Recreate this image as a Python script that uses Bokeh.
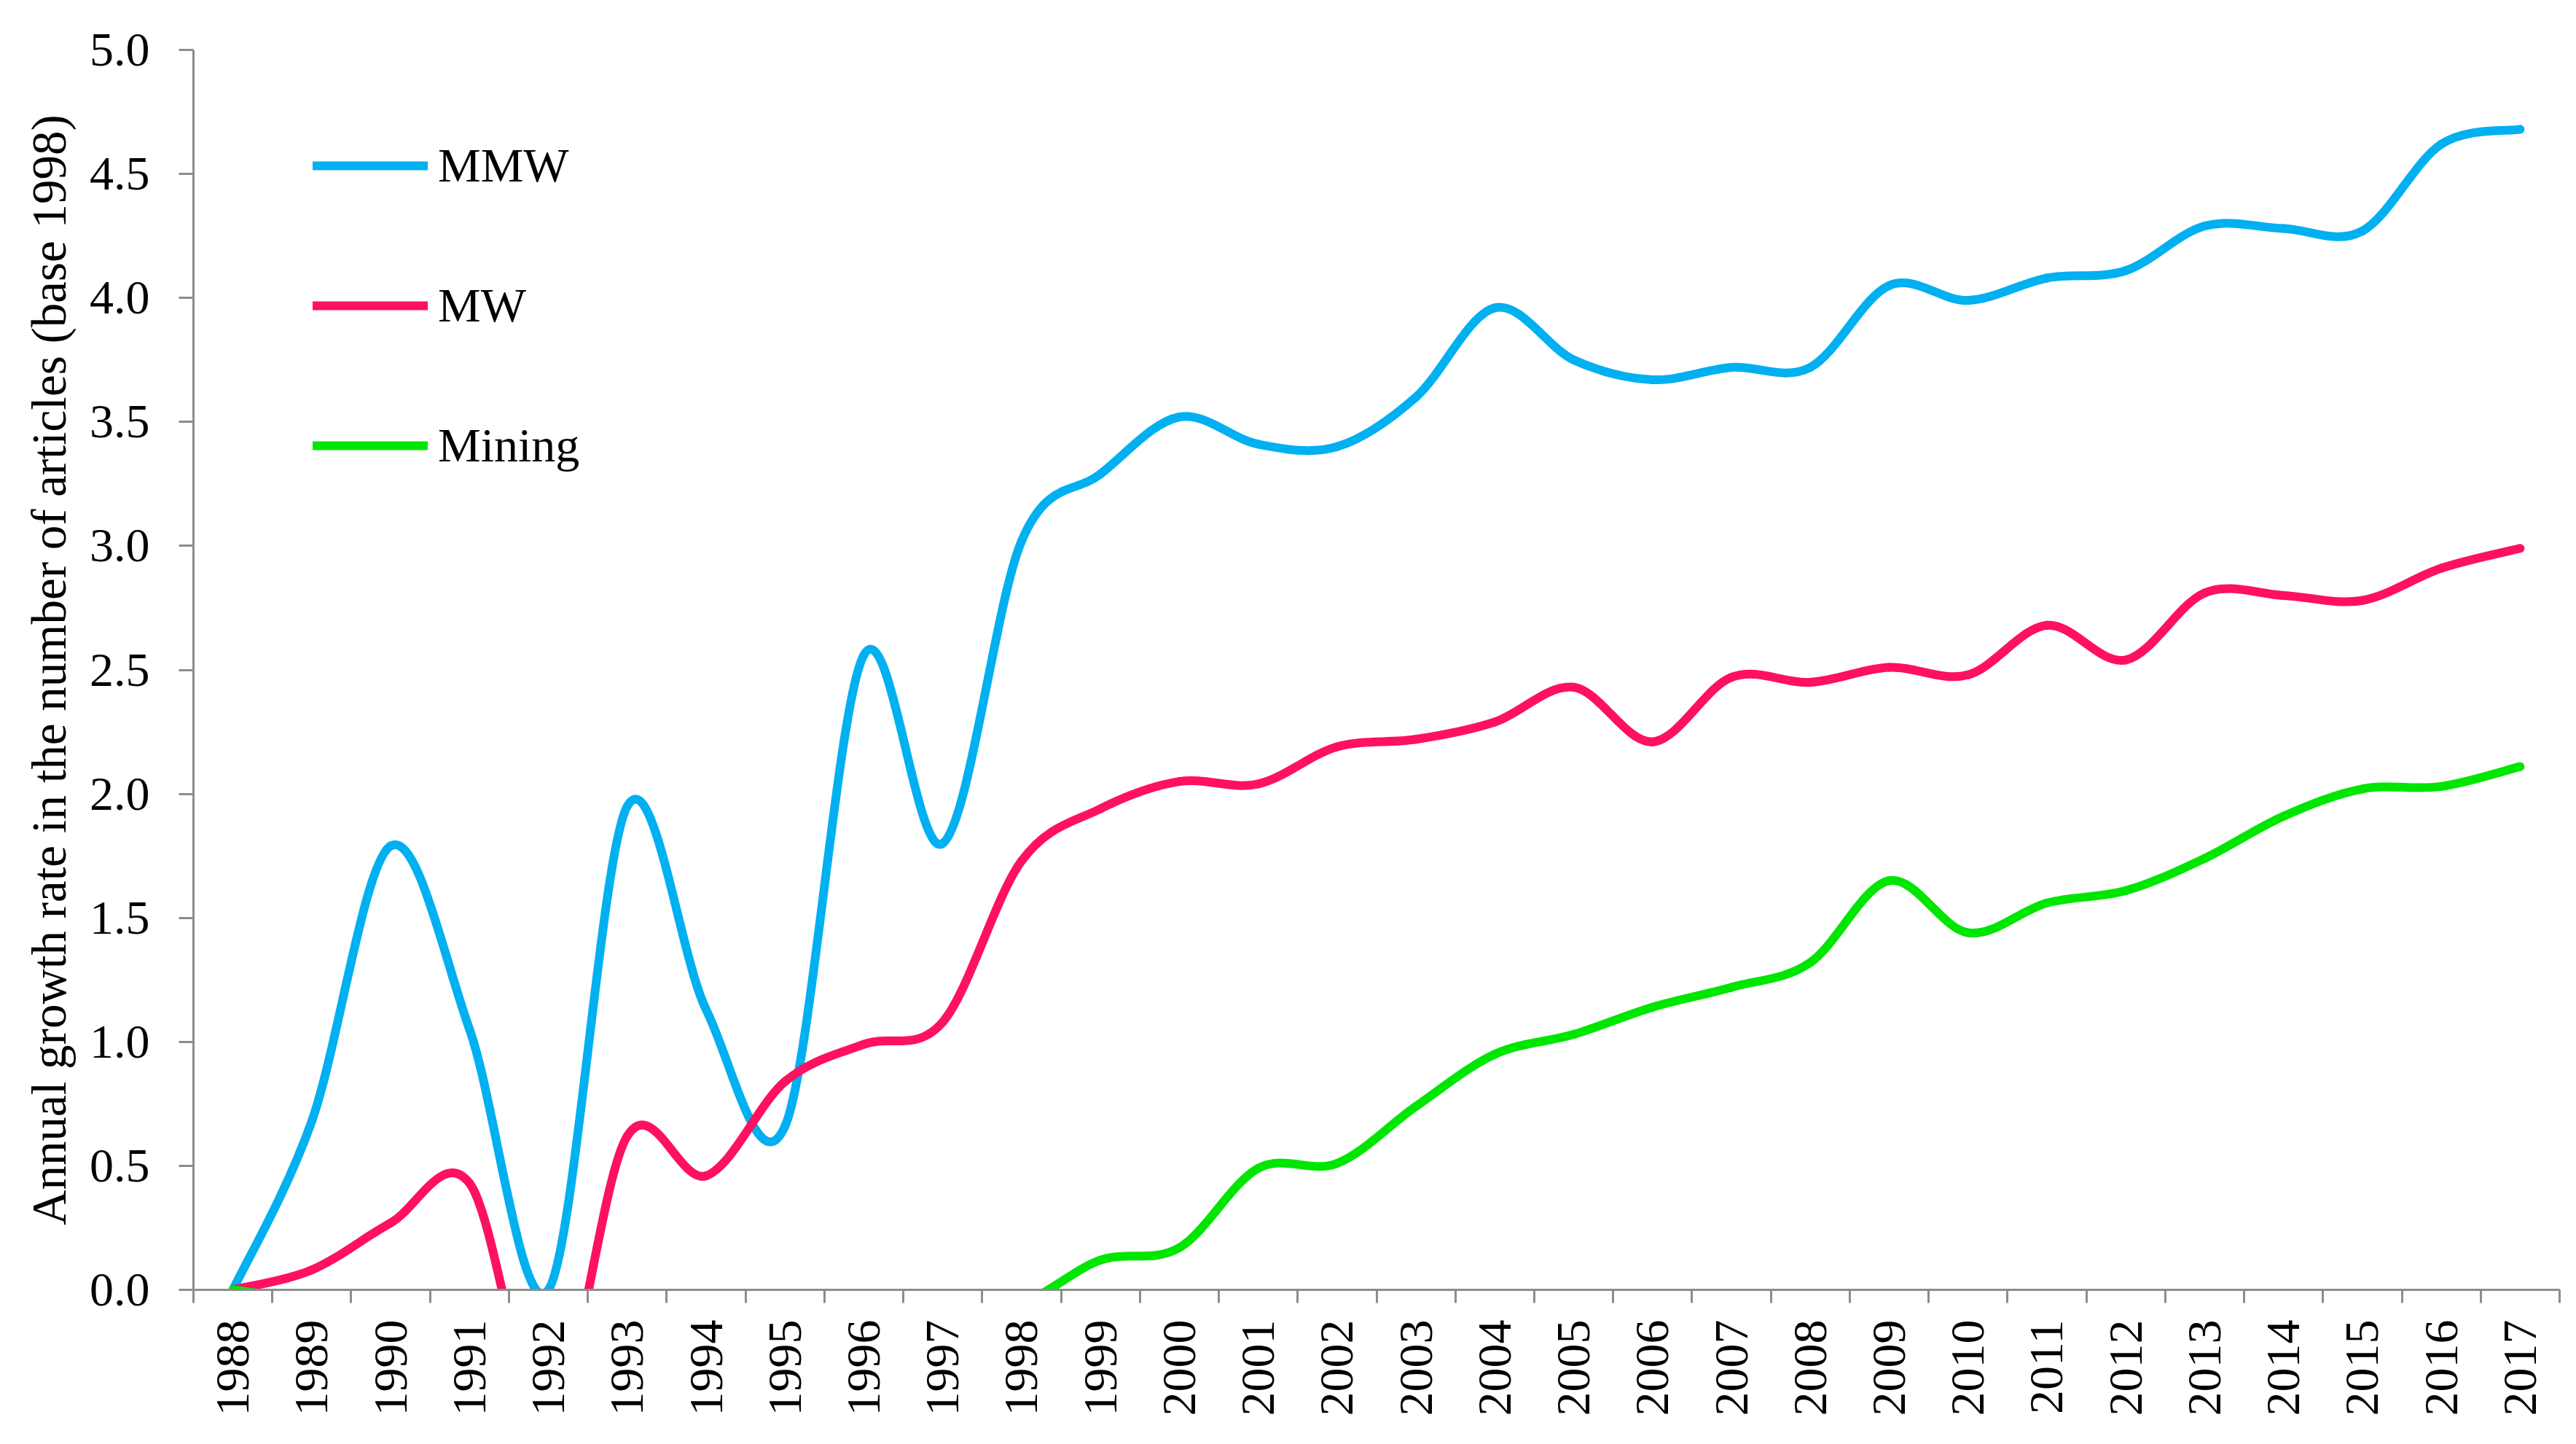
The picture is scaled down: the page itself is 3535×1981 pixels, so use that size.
from bokeh.plotting import figure
from bokeh.models import (Range1d, FixedTicker, PrintfTickFormatter, ColumnDataSource,
                          Legend, LegendItem)
from bokeh.embed import file_html
from bokeh.resources import INLINE
import math

# ---------------- data ----------------
years = [1988, 1989, 1990, 1991, 1992, 1993, 1994, 1995, 1996, 1997,
         1998, 1999, 2000, 2001, 2002, 2003, 2004, 2005, 2006, 2007,
         2008, 2009, 2010, 2011, 2012, 2013, 2014, 2015, 2016, 2017]

mmw = [0.00, 0.68, 1.79, 1.05, 0.00, 1.95, 1.13, 0.66, 2.56, 1.80,
       3.02, 3.29, 3.52, 3.41, 3.40, 3.60, 3.96, 3.75, 3.67, 3.72,
       3.72, 4.05, 3.99, 4.08, 4.11, 4.29, 4.28, 4.27, 4.62, 4.68]

mw = [0.00, 0.08, 0.27, 0.43, -0.55, 0.62, 0.46, 0.84, 0.99, 1.08,
      1.73, 1.94, 2.05, 2.04, 2.19, 2.22, 2.29, 2.43, 2.21, 2.47,
      2.45, 2.51, 2.48, 2.68, 2.54, 2.81, 2.80, 2.78, 2.91, 2.99]

mining = [0.00, -0.04, -0.05, -0.05, -0.05, -0.05, -0.05, -0.05, -0.05, -0.05,
          -0.05, 0.12, 0.17, 0.49, 0.51, 0.74, 0.95, 1.03, 1.14, 1.22,
          1.32, 1.65, 1.44, 1.56, 1.61, 1.74, 1.91, 2.02, 2.03, 2.11]

y_ticks = [0.0, 0.5, 1.0, 1.5, 2.0, 2.5, 3.0, 3.5, 4.0, 4.5, 5.0]

series_names = ["MMW", "MW", "Mining"]
series_colors = ["#00B0F0", "#FF1060", "#00E600"]

FONT = "Liberation Serif"
AXIS_COLOR = "#8c8c8c"


def smooth_segments(xs, ys):
    """Bezier segments (Excel-like smoothed line) through the data points."""
    n = len(xs)
    d = dict(x0=[], y0=[], x1=[], y1=[], cx0=[], cy0=[], cx1=[], cy1=[])
    for i in range(n - 1):
        xp, yp = (xs[i - 1], ys[i - 1]) if i > 0 else (xs[i], ys[i])
        xn, yn = (xs[i + 2], ys[i + 2]) if i + 2 < n else (xs[i + 1], ys[i + 1])
        d["x0"].append(xs[i]); d["y0"].append(ys[i])
        d["x1"].append(xs[i + 1]); d["y1"].append(ys[i + 1])
        d["cx0"].append(xs[i] + (xs[i + 1] - xp) / 6.0)
        d["cy0"].append(ys[i] + (ys[i + 1] - yp) / 6.0)
        d["cx1"].append(xs[i + 1] - (xn - xs[i]) / 6.0)
        d["cy1"].append(ys[i + 1] - (yn - ys[i]) / 6.0)
    return d


W, H = 3519, 1965
p = figure(width=W, height=H, output_backend="svg", toolbar_location=None,
           x_range=Range1d(years[0] - 0.5, years[-1] + 0.5),
           y_range=Range1d(0, 5),
           min_border_left=265, min_border_right=7,
           min_border_top=68, min_border_bottom=196)
p.outline_line_color = None
p.xgrid.visible = False
p.ygrid.visible = False
p.background_fill_color = "white"
p.border_fill_color = "white"

renderers = []
for vals, col in zip([mmw, mw, mining], series_colors):
    src = ColumnDataSource(smooth_segments(years, vals))
    r = p.bezier(x0="x0", y0="y0", x1="x1", y1="y1", cx0="cx0", cy0="cy0",
                 cx1="cx1", cy1="cy1", source=src, line_color=col,
                 line_width=12, line_cap="round", line_join="round")
    renderers.append(r)

# ---- x axis: ticks between categories, labels at centres ----
xa = p.xaxis[0]
xa.ticker = FixedTicker(ticks=years, minor_ticks=[y - 0.5 for y in years] + [years[-1] + 0.5])
xa.major_tick_out = 18
xa.major_tick_in = 0
xa.major_tick_line_color = None
xa.minor_tick_out = 18
xa.minor_tick_in = 0
xa.minor_tick_line_color = AXIS_COLOR
xa.minor_tick_line_width = 3
xa.axis_line_color = AXIS_COLOR
xa.axis_line_width = 3
xa.major_label_orientation = math.pi / 2
xa.major_label_standoff = 23
xa.major_label_text_font = FONT
xa.major_label_text_font_size = "66px"
xa.major_label_text_color = "black"

# ---- y axis ----
ya = p.yaxis[0]
ya.ticker = FixedTicker(ticks=y_ticks)
ya.formatter = PrintfTickFormatter(format="%.1f")
ya.major_tick_out = 20
ya.major_tick_in = 0
ya.minor_tick_line_color = None
ya.major_tick_line_color = AXIS_COLOR
ya.major_tick_line_width = 3
ya.axis_line_color = AXIS_COLOR
ya.axis_line_width = 3
ya.major_label_standoff = 40
ya.major_label_text_font = FONT
ya.major_label_text_font_size = "66px"
ya.major_label_text_color = "black"
ya.axis_label = "Annual growth rate in the number of articles (base 1998)"
ya.axis_label_text_font = FONT
ya.axis_label_text_font_size = "67px"
ya.axis_label_text_font_style = "normal"
ya.axis_label_text_color = "black"
ya.axis_label_standoff = 16

# ---- legend ----
legend = Legend(items=[LegendItem(label=n, renderers=[r]) for n, r in zip(series_names, renderers)],
                location=(164, 1108))
legend.padding = 0
legend.margin = 0
legend.border_line_color = None
legend.background_fill_alpha = 0
legend.glyph_width = 158
legend.glyph_height = 100
legend.label_height = 100
legend.spacing = 92
legend.label_standoff = 14
legend.label_text_font = FONT
legend.label_text_font_size = "66px"
legend.label_text_color = "black"
p.add_layout(legend)

open("out.html", "w").write(file_html(p, INLINE))
